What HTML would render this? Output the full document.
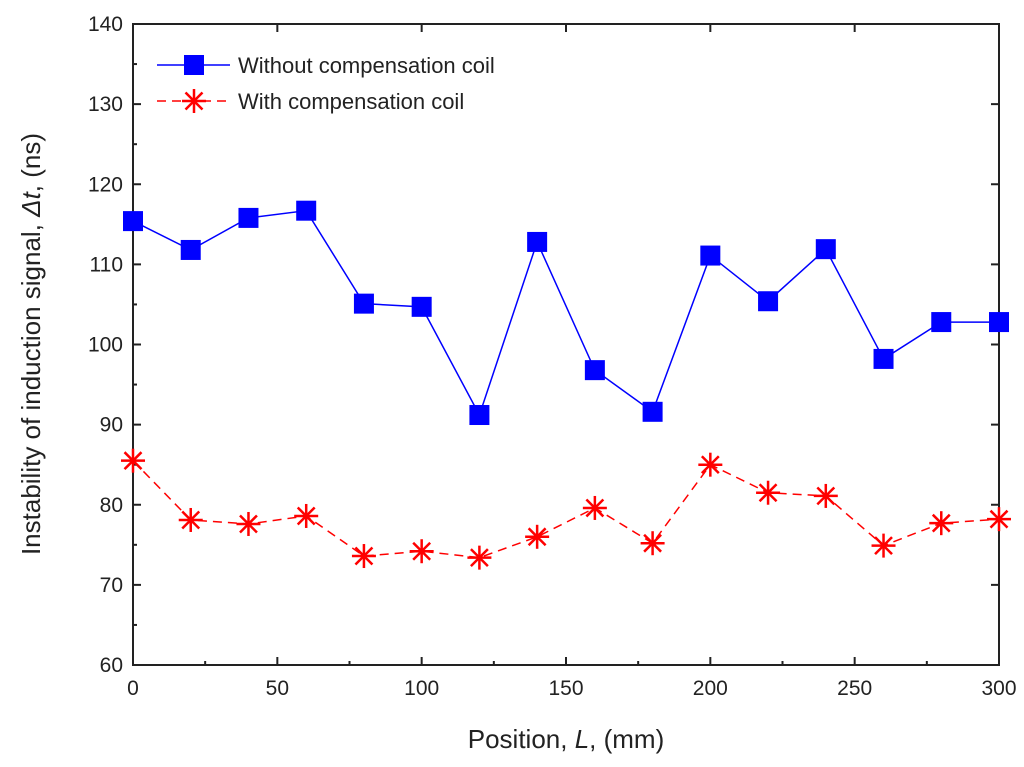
<!DOCTYPE html>
<html><head><meta charset="utf-8"><style>
body{margin:0;background:#fff;}
svg text{font-family:"Liberation Sans",Arial,sans-serif;}
</style></head><body>
<svg id="chart" width="1024" height="762" xmlns="http://www.w3.org/2000/svg"></svg>
<script>
const positions=[0,20,40,60,80,100,120,140,160,180,200,220,240,260,280,300];
const withoutComp=[115.4,111.8,115.8,116.7,105.1,104.7,91.2,112.8,96.8,91.6,111.1,105.4,111.9,98.2,102.8,102.8];
const withComp=[85.5,78.1,77.6,78.6,73.6,74.2,73.4,76.0,79.6,75.2,85.0,81.5,81.1,74.9,77.7,78.2];
const xTicks=[0,50,100,150,200,250,300];
const yTicks=[60,70,80,90,100,110,120,130,140];

const svg=document.getElementById('chart');
const NS='http://www.w3.org/2000/svg';
const L=133,R=999,T=24,B=665;
const xs=v=>L+(v-0)/300*(R-L);
const ys=v=>B-(v-60)/80*(B-T);
function el(tag,attrs,parent){const e=document.createElementNS(NS,tag);for(const k in attrs)e.setAttribute(k,attrs[k]);(parent||svg).appendChild(e);return e;}

const frame=el('rect',{x:L,y:T,width:R-L,height:B-T,fill:'none',stroke:'#222','stroke-width':2});



xTicks.forEach(v=>{
  const g=el('g',{});
  
  
  el('line',{x1:xs(v),x2:xs(v),y1:B,y2:B-8,stroke:'#222','stroke-width':2},g);
  el('line',{x1:xs(v),x2:xs(v),y1:T,y2:T+8,stroke:'#222','stroke-width':2},g);
  const t=el('text',{x:xs(v),y:B+30,'text-anchor':'middle','font-size':21,fill:'#222'},g);t.textContent=v;
});
for(let v=25;v<300;v+=50){
  const m=el('line',{x1:xs(v),x2:xs(v),y1:B,y2:B-4,stroke:'#222','stroke-width':2});
  
  
}
yTicks.forEach(v=>{
  const g=el('g',{});
  
  
  el('line',{x1:L,x2:L+8,y1:ys(v),y2:ys(v),stroke:'#222','stroke-width':2},g);
  el('line',{x1:R,x2:R-8,y1:ys(v),y2:ys(v),stroke:'#222','stroke-width':2},g);
  const t=el('text',{x:L-10,y:ys(v)+7,'text-anchor':'end','font-size':21,fill:'#222'},g);t.textContent=v;
});
for(let v=65;v<140;v+=10){
  const m=el('line',{x1:L,x2:L+4,y1:ys(v),y2:ys(v),stroke:'#222','stroke-width':2});
  
  
}

const xt=el('text',{x:566,y:748,'text-anchor':'middle','font-size':26,fill:'#222'});


xt.innerHTML='Position, <tspan font-style="italic">L</tspan>, (mm)';
const yt=el('text',{x:0,y:0,'text-anchor':'middle','font-size':26,fill:'#222',transform:'translate(40,344) rotate(-90)'});


yt.innerHTML='Instability of induction signal, <tspan font-style="italic">Δt</tspan>, (ns)';

function star(cx,cy,parent,r){
  for(let a=0;a<4;a++){const ang=a*Math.PI/4;
    el('line',{x1:cx-r*Math.cos(ang),y1:cy-r*Math.sin(ang),x2:cx+r*Math.cos(ang),y2:cy+r*Math.sin(ang),stroke:'#ff0000','stroke-width':2.5},parent);}
}

const bl=el('polyline',{points:positions.map((p,i)=>xs(p)+','+ys(withoutComp[i])).join(' '),fill:'none',stroke:'#0000ff','stroke-width':1.5});


positions.forEach((p,i)=>{
  const r=el('rect',{x:xs(p)-10,y:ys(withoutComp[i])-10,width:20,height:20,fill:'#0000ff'});
  
  
});
const rl=el('polyline',{points:positions.map((p,i)=>xs(p)+','+ys(withComp[i])).join(' '),fill:'none',stroke:'#ff0000','stroke-width':1.5,'stroke-dasharray':'9,6'});


positions.forEach((p,i)=>{
  const g=el('g',{});
  
  
  star(xs(p),ys(withComp[i]),g,12);
});

const lg1=el('g',{});


el('line',{x1:157,x2:230,y1:65,y2:65,stroke:'#0000ff','stroke-width':1.5},lg1);
el('rect',{x:184,y:55,width:20,height:20,fill:'#0000ff'},lg1);
let t1=el('text',{x:238,y:73,'font-size':22,fill:'#222'},lg1);t1.textContent='Without compensation coil';
const lg2=el('g',{});


el('line',{x1:157,x2:230,y1:101,y2:101,stroke:'#ff0000','stroke-width':1.5,'stroke-dasharray':'9,6'},lg2);
star(194,101,lg2,12);
let t2=el('text',{x:238,y:109,'font-size':22,fill:'#222'},lg2);t2.textContent='With compensation coil';
</script>
</body></html>
